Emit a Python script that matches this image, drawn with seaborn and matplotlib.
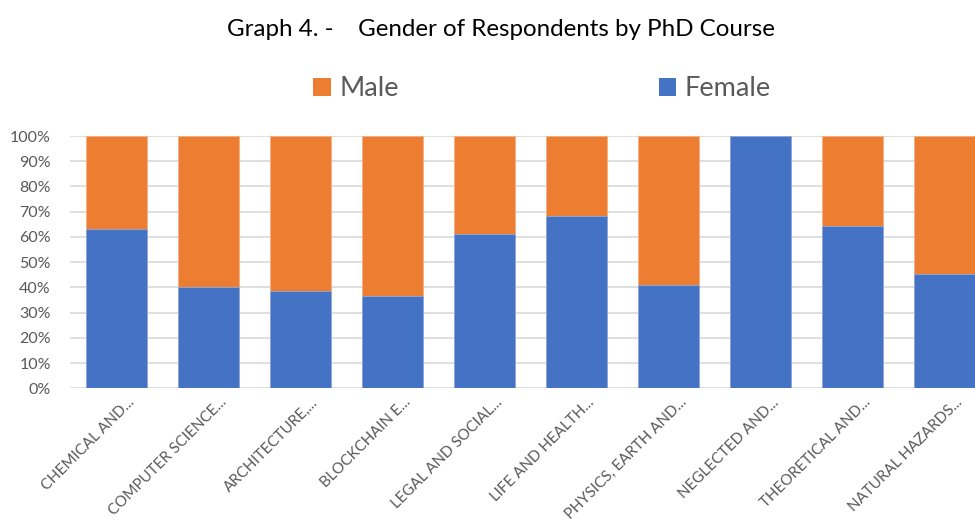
import matplotlib
matplotlib.use("Agg")
import matplotlib.pyplot as plt
import matplotlib.transforms as mtransforms
import seaborn as sns
import pandas as pd
from matplotlib.ticker import PercentFormatter
from matplotlib.patches import Patch

categories = ["CHEMICAL AND...", "COMPUTER SCIENCE...", "ARCHITECTURE,...",
              "BLOCKCHAIN E...", "LEGAL AND SOCIAL...", "LIFE AND HEALTH...",
              "PHYSICS, EARTH AND...", "NEGLECTED AND...", "THEORETICAL AND...",
              "NATURAL HAZARDS..."]
female = [63.0, 40.0, 38.7, 36.5, 61.0, 68.4, 41.1, 100.0, 64.4, 45.2]
male = [37.0, 60.0, 61.3, 63.5, 39.0, 31.6, 58.9, 0.0, 35.6, 54.8]
yticks = [0, 10, 20, 30, 40, 50, 60, 70, 80, 90, 100]

title = "Graph 4. -    Gender of Respondents by PhD Course"
BLUE = "#4472C4"
ORANGE = "#ED7D31"
GREY = "#595959"

sns.set_theme(style="white")
plt.rcParams['font.family'] = ['Lato', 'DejaVu Sans']

df = pd.DataFrame({"course": categories, "Female": female, "Male": male})
df["Total"] = df["Female"] + df["Male"]

fig = plt.figure(figsize=(9.75, 5.23), dpi=100)
ax = fig.add_axes([70.3 / 975, 1 - 388.3 / 523, (975 - 70.3) / 975, (388.3 - 136) / 523])

sns.barplot(data=df, x="course", y="Total", color=ORANGE, width=0.66, ax=ax,
            saturation=1, edgecolor="#F4B183", linewidth=0.6, zorder=3)
sns.barplot(data=df, x="course", y="Female", color=BLUE, width=0.66, ax=ax,
            saturation=1, edgecolor="#8FAADC", linewidth=0.6, zorder=4)

ax.set_ylim(0, 100)
ax.set_xlim(-0.5, (975 - 116.3) / 92.0)
ax.set_yticks(yticks)
ax.yaxis.set_major_formatter(PercentFormatter(decimals=0))
ax.grid(axis="y", color="#D9D9D9", linewidth=1.2, zorder=0)
ax.set_axisbelow(True)
for s in ax.spines.values():
    s.set_visible(False)
ax.set_xlabel("")
ax.set_ylabel("")
ax.tick_params(axis="y", labelsize=11.5, labelcolor=GREY, length=0, pad=14)
ax.tick_params(axis="x", labelsize=10.9, labelcolor=GREY, length=0, pad=5)
offset = mtransforms.ScaledTranslation(0.11, 0, fig.dpi_scale_trans)
for lbl in ax.get_xticklabels():
    lbl.set_rotation(45)
    lbl.set_ha("right")
    lbl.set_rotation_mode("anchor")
    lbl.set_transform(lbl.get_transform() + offset)

fig.text(501 / 975, 1 - 29 / 523, title, ha="center", va="center",
         fontsize=17.4, color="#000000")

handles = [Patch(facecolor=ORANGE, edgecolor="none"), Patch(facecolor=BLUE, edgecolor="none")]
fig.legend(handles, ["Male", "Female"], loc="center", bbox_to_anchor=(542 / 975, 1 - 89 / 523),
           ncol=2, frameon=False, fontsize=19.5, labelcolor=GREY, handlelength=0.65,
           handleheight=0.65, handletextpad=0.3, columnspacing=9.6)

fig.savefig("out.png", dpi=100)
